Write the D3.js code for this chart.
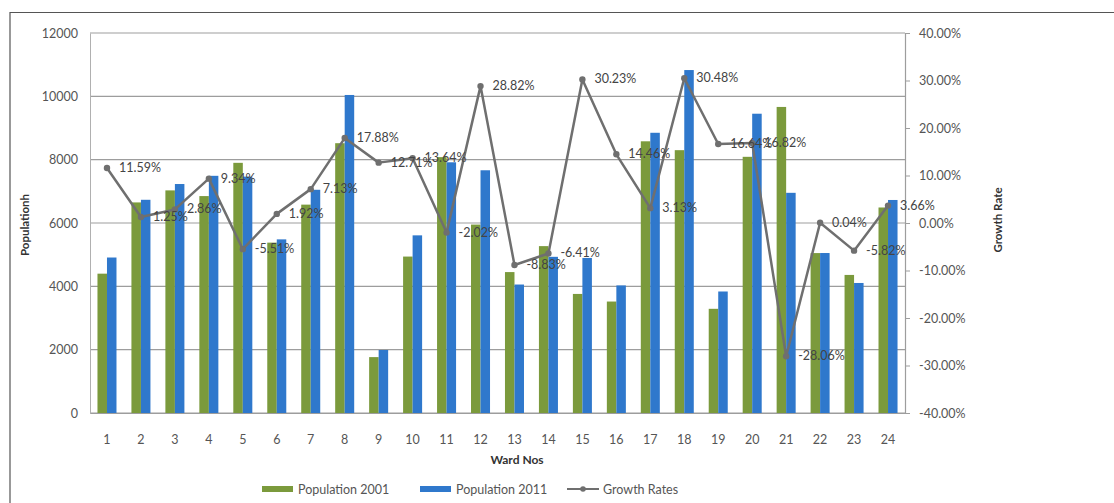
<!DOCTYPE html>
<html><head><meta charset="utf-8">
<script src="https://cdn.jsdelivr.net/npm/d3@7"></script>
<style>body{margin:0;background:#fff;} svg{display:block;}</style>
</head><body>
<svg id="chart" width="1114" height="503"></svg>
<script>
const wards = ["1","2","3","4","5","6","7","8","9","10","11","12","13","14","15","16","17","18","19","20","21","22","23","24"];
const pop2001 = [4400,6650,7030,6850,7900,5380,6580,8520,1765,4940,8080,5950,4450,5270,3760,3520,8580,8300,3290,8090,9665,5050,4360,6490];
const pop2011 = [4910,6733,7231,7490,7465,5483,7049,10043,1990,5610,7917,7665,4057,4932,4897,4029,8849,10830,3837,9451,6953,5052,4106,6727];
const growth = [11.59,1.25,2.86,9.34,-5.51,1.92,7.13,17.88,12.71,13.64,-2.02,28.82,-8.83,-6.41,30.23,14.46,3.13,30.48,16.64,16.82,-28.06,0.04,-5.82,3.66];
const leftTicks = [0,2000,4000,6000,8000,10000,12000];
const rightTicks = [-40,-30,-20,-10,0,10,20,30,40];
const seriesNames = ["Population 2001","Population 2011","Growth Rates"];

const green = "#7b9a3c", blue = "#2f78cc", lineCol = "#6f6f6f";
const font = "Lato, 'Open Sans', sans-serif";
const svg = d3.select("#chart");
const L = 90, R = 905, T = 33, B = 413;

// outer border
svg.append("path").attr("d","M10,503 L10,12.5 L1114,12.5").attr("fill","none").attr("stroke","#555").attr("stroke-width",1.2);

const x0 = d3.scaleBand().domain(wards).range([L,R]).paddingInner(0.44).paddingOuter(0.22);
const x1 = d3.scaleBand().domain([0,1]).range([0,x0.bandwidth()]);
const xc = d => x0(d) + x0.bandwidth()/2;
const yL = d3.scaleLinear().domain([0,12000]).range([B,T]);
const yR = d3.scaleLinear().domain([-40,40]).range([B,T]);

// gridlines
svg.append("g").selectAll("line").data(leftTicks).join("line")
  .attr("x1",L).attr("x2",R).attr("y1",d=>yL(d)).attr("y2",d=>yL(d))
  .attr("stroke","#9d9d9d").attr("stroke-width",1.2);

// left axis
const gl = svg.append("g").attr("transform",`translate(${L},0)`)
  .call(d3.axisLeft(yL).tickValues(leftTicks).tickSize(0).tickPadding(12).tickFormat(d3.format("d")));
gl.select(".domain").attr("stroke","#b0b0b0");
gl.selectAll("text").attr("font-family",font).attr("font-size",12.5).attr("fill","#555");

// right axis
const gr = svg.append("g").attr("transform",`translate(${R},0)`)
  .call(d3.axisRight(yR).tickValues(rightTicks).tickSize(5).tickPadding(9).tickFormat(d=>d.toFixed(2)+"%"));
gr.select(".domain").attr("stroke","#9d9d9d").attr("stroke-width",1.2);
gr.selectAll(".tick line").attr("stroke","#9d9d9d");
gr.selectAll("text").attr("font-family",font).attr("font-size",12.5).attr("fill","#555");

// x axis labels
const gx = svg.append("g").attr("transform",`translate(0,${B})`)
  .call(d3.axisBottom(x0).tickSize(0).tickPadding(22));
gx.select(".domain").attr("stroke","#9d9d9d").attr("stroke-width",1.2);
gx.selectAll("text").attr("font-family",font).attr("font-size",12.5).attr("fill","#555");

// bars
const series = [pop2001, pop2011];
const cols = [green, blue];
series.forEach((vals,si)=>{
  svg.append("g").selectAll("rect").data(wards).join("rect")
    .attr("x",(d)=>x0(d)+x1(si)).attr("width",x1.bandwidth())
    .attr("y",(d,i)=>yL(vals[i])).attr("height",(d,i)=>B-yL(vals[i]))
    .attr("fill",cols[si]);
});

// line
const line = d3.line().x((d,i)=>xc(wards[i])).y(d=>yR(d));
svg.append("path").datum(growth).attr("d",line).attr("fill","none")
  .attr("stroke",lineCol).attr("stroke-width",2.5).attr("stroke-linejoin","round");
svg.append("g").selectAll("circle").data(growth).join("circle")
  .attr("cx",(d,i)=>xc(wards[i])).attr("cy",d=>yR(d)).attr("r",3.2).attr("fill",lineCol);
svg.append("g").selectAll("text").data(growth).join("text")
  .attr("x",(d,i)=>xc(wards[i])+12).attr("y",d=>yR(d)+4)
  .attr("font-family",font).attr("font-size",12.5).attr("fill","#444")
  .text(d=>d.toFixed(2)+"%");

// axis titles
svg.append("text").attr("x",517).attr("y",464).attr("text-anchor","middle")
  .attr("font-family",font).attr("font-weight","bold").attr("font-size",12).attr("fill","#333").text("Ward Nos");
svg.append("text").attr("transform","translate(29,225) rotate(-90)").attr("text-anchor","middle")
  .attr("font-family",font).attr("font-weight","bold").attr("font-size",11.5).attr("fill","#333").text("Populationh");
svg.append("text").attr("transform","translate(1002,220) rotate(-90)").attr("text-anchor","middle")
  .attr("font-family",font).attr("font-weight","bold").attr("font-size",11.5).attr("fill","#333").text("Growth Rate");

// legend
const lg = svg.append("g");
const items = [{x:262,type:"bar",c:green},{x:420,type:"bar",c:blue},{x:567,type:"line",c:lineCol}];
items.forEach((it,i)=>{
  if(it.type==="bar"){
    lg.append("rect").attr("x",it.x).attr("y",486).attr("width",31).attr("height",6).attr("fill",it.c);
  } else {
    lg.append("line").attr("x1",it.x).attr("x2",it.x+32).attr("y1",489).attr("y2",489).attr("stroke",it.c).attr("stroke-width",2);
    lg.append("circle").attr("cx",it.x+16).attr("cy",489).attr("r",2.8).attr("fill",it.c);
  }
  lg.append("text").attr("x",it.x+36).attr("y",494).attr("font-family",font).attr("font-size",12.5).attr("fill","#555").text(seriesNames[i]);
});
</script>
</body></html>
